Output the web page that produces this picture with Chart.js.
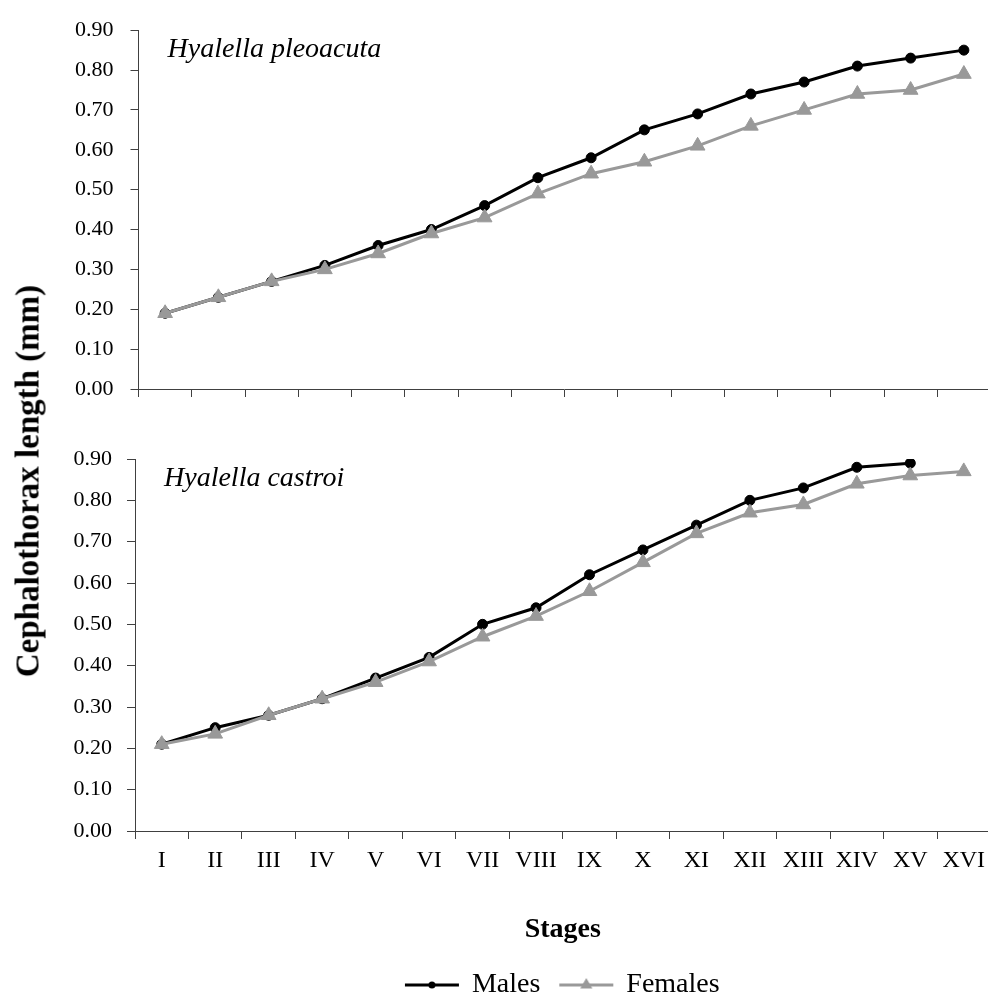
<!DOCTYPE html>
<html>
<head>
<meta charset="utf-8">
<script src="https://cdn.jsdelivr.net/npm/chart.js@4.4.1/dist/chart.umd.min.js"></script>
<style>
  html, body { margin: 0; padding: 0; background: #fff; overflow: hidden; }
  #page { position: relative; width: 988px; height: 1003px; overflow: hidden; }
  #topChart { position: absolute; left: 0; top: 0; }
  #bottomChart { position: absolute; left: 0; top: 430px; }
  #yTitle {
    position: absolute; left: 28px; top: 481px;
    transform: translate(-50%, -50%) rotate(-90deg);
    font: bold 33px 'Liberation Serif', serif; color: #000; white-space: nowrap;
  }
</style>
</head>
<body>
<div id="page">
  <canvas id="topChart" width="1000" height="420" style="width:1000px;height:420px"></canvas>
  <canvas id="bottomChart" width="1000" height="579" style="width:1000px;height:579px"></canvas>
  <div id="yTitle">Cephalothorax length (mm)</div>
</div>
<script>
const stages = ['I', 'II', 'III', 'IV', 'V', 'VI', 'VII', 'VIII', 'IX', 'X', 'XI', 'XII', 'XIII', 'XIV', 'XV', 'XVI'];

// Hyalella pleoacuta
const pleoacutaMales = [0.19, 0.23, 0.27, 0.31, 0.36, 0.40, 0.46, 0.53, 0.58, 0.65, 0.69, 0.74, 0.77, 0.81, 0.83, 0.85];
const pleoacutaFemales = [0.19, 0.23, 0.27, 0.30, 0.34, 0.39, 0.43, 0.49, 0.54, 0.57, 0.61, 0.66, 0.70, 0.74, 0.75, 0.79];

// Hyalella castroi
const castroiMales = [0.21, 0.25, 0.28, 0.32, 0.37, 0.42, 0.50, 0.54, 0.62, 0.68, 0.74, 0.80, 0.83, 0.88, 0.89, null];
const castroiFemales = [0.21, 0.235, 0.28, 0.32, 0.36, 0.41, 0.47, 0.52, 0.58, 0.65, 0.72, 0.77, 0.79, 0.84, 0.86, 0.87];

const yTicks = [0, 0.1, 0.2, 0.3, 0.4, 0.5, 0.6, 0.7, 0.8, 0.9];

Chart.defaults.font.family = "'Liberation Serif', serif";
Chart.defaults.color = '#000';

const axisColor = '#404040';
const maleColor = '#000000';
const femaleColor = '#999999';

function legendIcon(color, style, r) {
  const c = document.createElement('canvas');
  c.width = 56; c.height = 18;
  const g = c.getContext('2d');
  g.strokeStyle = color; g.fillStyle = color; g.lineWidth = 3;
  g.beginPath(); g.moveTo(1, 9); g.lineTo(55, 9); g.stroke();
  g.beginPath();
  if (style === 'circle') {
    g.arc(28, 9, r, 0, Math.PI * 2);
  } else {
    g.moveTo(28, 9 - r);
    g.lineTo(28 + r * 0.866, 9 + r * 0.5);
    g.lineTo(28 - r * 0.866, 9 + r * 0.5);
    g.closePath();
  }
  g.fill();
  return c;
}

function panelLabel(text) {
  return {
    id: 'panelLabel',
    afterDraw(chart) {
      const ctx = chart.ctx;
      ctx.save();
      ctx.font = "italic 28px 'Liberation Serif', serif";
      ctx.fillStyle = '#000';
      ctx.textBaseline = 'alphabetic';
      ctx.fillText(text, chart.chartArea.left + 29, chart.chartArea.top + 27);
      ctx.restore();
    }
  };
}

function makeDatasets(males, females) {
  return [{
    label: 'Males',
    data: males,
    borderColor: maleColor,
    backgroundColor: maleColor,
    borderWidth: 3,
    pointStyle: 'circle',
    pointRadius: 5,
    pointBorderWidth: 1,
    tension: 0,
    order: 2
  }, {
    label: 'Females',
    data: females,
    borderColor: femaleColor,
    backgroundColor: femaleColor,
    borderWidth: 3,
    pointStyle: 'triangle',
    pointRadius: 8.5,
    pointBorderWidth: 1,
    tension: 0,
    order: 1
  }];
}

function yScale(width, padding) {
  return {
    min: 0,
    max: 0.9,
    afterBuildTicks: s => { s.ticks = yTicks.map(v => ({ value: v })); },
    afterFit: s => { s.width = width; },
    ticks: {
      padding: padding,
      font: { size: 22 },
      callback: v => Number(v).toFixed(2)
    },
    grid: { drawOnChartArea: false, drawTicks: true, tickLength: 8, color: axisColor },
    border: { display: true, color: axisColor, width: 1 }
  };
}

new Chart(document.getElementById('topChart'), {
  type: 'line',
  data: { labels: stages, datasets: makeDatasets(pleoacutaMales, pleoacutaFemales) },
  options: {
    responsive: false,
    animation: false,
    layout: { padding: { top: 19, right: 8, left: 0, bottom: 0 } },
    plugins: { legend: { display: false }, tooltip: { enabled: false } },
    scales: {
      x: {
        offset: true,
        afterFit: s => { s.height = 31; },
        ticks: { callback: () => '' },
        grid: { offset: true, drawOnChartArea: false, drawTicks: true, tickLength: 8, color: axisColor },
        border: { display: true, color: axisColor, width: 1 }
      },
      y: yScale(138.5, 17)
    }
  },
  plugins: [panelLabel('Hyalella pleoacuta')]
});

new Chart(document.getElementById('bottomChart'), {
  type: 'line',
  data: { labels: stages, datasets: makeDatasets(castroiMales, castroiFemales) },
  options: {
    responsive: false,
    animation: false,
    layout: { padding: { top: 29, right: 7, left: 0, bottom: 0 } },
    plugins: {
      tooltip: { enabled: false },
      legend: {
        position: 'bottom',
        fullSize: false,
        labels: {
          usePointStyle: true,
          pointStyleWidth: 52,
          padding: 20,
          font: { size: 28 },
          color: '#000',
          sort: (a, b) => a.datasetIndex - b.datasetIndex,
          generateLabels: chart => chart.data.datasets.map((ds, i) => ({
            text: ds.label,
            datasetIndex: i,
            pointStyle: i === 0 ? legendIcon(maleColor, 'circle', 3.5) : legendIcon(femaleColor, 'triangle', 7),
            fillStyle: ds.backgroundColor,
            strokeStyle: ds.borderColor,
            lineWidth: 0,
            hidden: false
          }))
        }
      }
    },
    scales: {
      x: {
        offset: true,
        afterFit: s => { s.height = 120; },
        ticks: { padding: 7, font: { size: 24 }, maxRotation: 0, autoSkip: false },
        grid: { offset: true, drawOnChartArea: false, drawTicks: true, tickLength: 8, color: axisColor },
        border: { display: true, color: axisColor, width: 1 },
        title: {
          display: true,
          text: 'Stages',
          font: { size: 28, weight: 'bold' },
          padding: { top: 0, bottom: 4 }
        }
      },
      y: yScale(135, 15)
    }
  },
  plugins: [panelLabel('Hyalella castroi')]
});
</script>
</body>
</html>
